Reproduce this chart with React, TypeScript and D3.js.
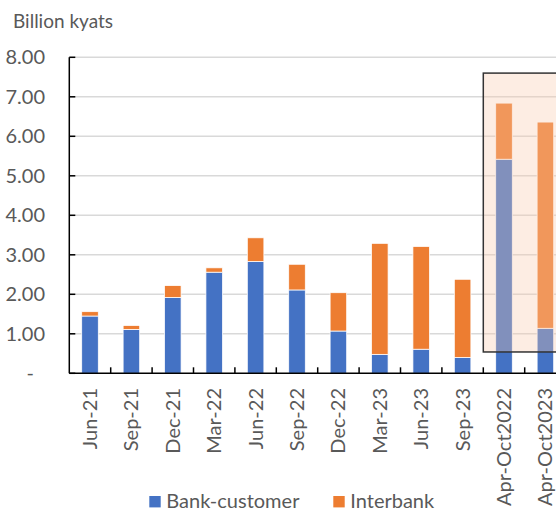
import React from "react";
import * as d3 from "d3";

const categories = ["Jun-21", "Sep-21", "Dec-21", "Mar-22", "Jun-22", "Sep-22", "Dec-22", "Mar-23", "Jun-23", "Sep-23", "Apr-Oct2022", "Apr-Oct2023"];
const bankCustomer = [1.45, 1.11, 1.92, 2.56, 2.83, 2.11, 1.07, 0.48, 0.61, 0.40, 5.42, 1.14];
const interbank = [0.11, 0.10, 0.30, 0.11, 0.60, 0.65, 0.97, 2.81, 2.60, 1.98, 1.42, 5.22];
const yTicks = [0, 1, 2, 3, 4, 5, 6, 7, 8];
const yTickLabels = ["-", "1.00", "2.00", "3.00", "4.00", "5.00", "6.00", "7.00", "8.00"];
const seriesNames = ["Bank-customer", "Interbank"];
const highlightCategories = ["Apr-Oct2022", "Apr-Oct2023"];
const highlightRange = [0.54, 7.6];

const W = 556, H = 514;
const FONT = "Lato, 'Noto Sans', sans-serif";
const TEXT = "#595959";
const BLUE = "#4472c4";
const ORANGE = "#ed7d31";

export default function App() {
  const x = d3.scaleBand<string>().domain(categories).range([69.3, 566.1]).paddingInner(0.6).paddingOuter(0.3);
  const y = d3.scaleLinear().domain([0, 8]).range([373.3, 57.3]);
  const step = x.step();
  const x0 = 69.3;
  const stack = d3.stack<any>().keys(["a", "b"])(categories.map((c, i) => ({ c, a: bankCustomer[i], b: interbank[i] })));
  const colors = [BLUE, ORANGE];
  const hlX = x(highlightCategories[0])! - step * 0.3;
  return (
    <svg width={W} height={H} style={{ position: "absolute", left: 0, top: 0, fontFamily: FONT }}>
      <rect width={W} height={H} fill="#fff" />
      <text x={13} y={28} fontSize={19} fill={TEXT}>Billion kyats</text>
      {yTicks.slice(1).map((t) => (
        <line key={t} x1={x0} x2={W + 20} y1={y(t)} y2={y(t)} stroke="#d9d9d9" strokeWidth={1.5} />
      ))}
      {yTicks.map((t, i) => (
        <text key={t} x={t === 0 ? 34 : 45} y={y(t)} dy="0.35em" textAnchor="end" fontSize={20} fill={TEXT}>{yTickLabels[i]}</text>
      ))}
      {stack.map((s, si) => (
        <g key={si}>
          {s.map((d, i) => (
            <rect key={i} x={x(categories[i])} width={x.bandwidth()} y={y(d[1])} height={y(d[0]) - y(d[1])} fill={colors[si]} stroke="#fff" strokeWidth={0.75} />
          ))}
        </g>
      ))}
      <rect x={hlX} y={y(highlightRange[1])} width={W - hlX + 20} height={y(highlightRange[0]) - y(highlightRange[1])} fill="#f8cbad" fillOpacity={0.34} stroke="#333" strokeWidth={1.5} />
      <line x1={x0} x2={x0} y1={y(8)} y2={y(0)} stroke="#000" strokeWidth={1.5} />
      <line x1={x0} x2={W + 20} y1={y(0)} y2={y(0)} stroke="#000" strokeWidth={1.5} />
      {yTicks.map((t) => (
        <line key={"yt" + t} x1={x0} x2={x0 + 6} y1={y(t)} y2={y(t)} stroke="#000" strokeWidth={1.5} />
      ))}
      {categories.map((c, i) => (
        <line key={"xt" + i} x1={x0 + (i + 1) * step} x2={x0 + (i + 1) * step} y1={y(0)} y2={y(0) - 6} stroke="#000" strokeWidth={1.5} />
      ))}
      {categories.map((c) => {
        const cx = x(c)! + x.bandwidth() / 2 + 7;
        return (
          <text key={c} transform={`translate(${cx},388) rotate(-90)`} textAnchor="end" fontSize={20} fill={TEXT}>{c}</text>
        );
      })}
      {seriesNames.map((n, i) => {
        const lx = 149.3 + i * 184;
        return (
          <g key={n}>
            <rect x={lx} y={496} width={11.4} height={11.4} fill={colors[i]} />
            <text x={lx + 17} y={508} fontSize={20} fill={TEXT}>{n}</text>
          </g>
        );
      })}
    </svg>
  );
}
